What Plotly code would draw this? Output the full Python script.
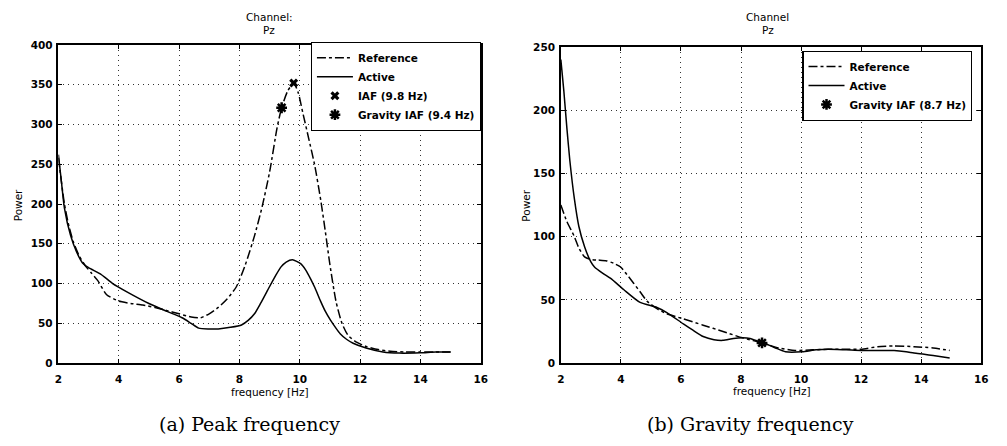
import plotly.graph_objects as go

# ---------------- data: (a) Peak frequency ----------------
ref_a_f = [2.0, 2.1, 2.2, 2.35, 2.5, 2.7, 2.9, 3.1, 3.3, 3.6, 4.0, 4.4, 4.8, 5.2, 5.6, 6.0,
           6.4, 6.7, 7.0, 7.3, 7.6, 7.9, 8.2, 8.5, 8.75, 9.0, 9.25, 9.4, 9.6, 9.8, 9.95,
           10.1, 10.3, 10.5, 10.7, 10.85, 11.0, 11.2, 11.4, 11.6, 11.9, 12.2, 12.6, 13.0,
           13.5, 14.0, 14.5, 15.0]
ref_a_p = [258, 228, 200, 172, 152, 134, 122, 113, 104, 86, 78, 75, 73, 70, 66, 62,
           58, 57, 62, 70, 81, 96, 124, 160, 196, 240, 296, 321, 342, 352, 340,
           315, 282, 248, 204, 165, 124, 78, 50, 35, 26, 21, 17, 15,
           14, 14, 14, 14]

act_a_f = [2.0, 2.1, 2.2, 2.4, 2.6, 2.8, 3.0, 3.4, 3.8, 4.3, 5.0, 5.6, 6.1, 6.4, 6.65,
           7.0, 7.3, 7.7, 8.07, 8.3, 8.5, 8.7, 8.94, 9.2, 9.38, 9.55, 9.76, 10.03, 10.2,
           10.36, 10.5, 10.69, 10.85, 11.02, 11.2, 11.34, 11.55, 11.77, 12.2, 12.76,
           13.3, 14.0, 14.5, 15.0]
act_a_p = [262, 228, 195, 161, 140, 126, 120, 112, 100, 89, 75, 65, 57, 50, 44,
           43, 43, 45, 48, 54, 62, 75, 92, 110, 121, 127, 130, 125, 117,
           106, 95, 78, 65, 54, 44, 37, 30, 25, 19, 14,
           12.6, 13, 14, 14]

iaf_a = (9.8, 352)
giaf_a = (9.4, 321)

# ---------------- data: (b) Gravity frequency ----------------
ref_b_f = [2.0, 2.2, 2.45, 2.6, 2.79, 3.0, 3.23, 3.5, 3.75, 3.99, 4.2, 4.43, 4.65, 4.87,
           5.2, 5.53, 6.08, 6.74, 7.4, 8.05, 8.7, 9.25, 9.8, 10.4, 10.9, 11.5, 12.0,
           12.55, 13.1, 13.76, 14.4, 14.95]
ref_b_p = [125, 112, 100, 91, 84, 82, 81.5, 81, 79, 76, 70, 63, 56, 49,
           43, 39, 35, 30, 25, 20, 16, 12, 10, 10.5, 11, 11, 11,
           13, 13.6, 13, 12, 10]

act_b_f = [2.0, 2.1, 2.2, 2.3, 2.45, 2.6, 2.79, 3.0, 3.12, 3.4, 3.66, 4.1, 4.64, 5.2,
           5.53, 6.08, 6.4, 6.74, 7.1, 7.4, 7.75, 8.05, 8.3, 8.6, 8.9, 9.15, 9.48, 10.03,
           10.5, 10.9, 11.5, 12.0, 12.6, 13.1, 13.5, 13.76, 14.1, 14.4, 14.95]
act_b_p = [240, 215, 186, 160, 130, 108, 92, 80, 76, 71, 67, 58, 48, 44,
           40, 31, 26, 21, 18.5, 18, 19.5, 20, 19.5, 17, 14.5, 12, 9, 9,
           10.5, 11, 10.5, 10, 10, 10, 9, 8, 7, 6, 4]

giaf_b = (8.7, 16)

W, H = 1007, 446
FONT = "DejaVu Sans, Liberation Sans, Arial, sans-serif"
SERIF = "DejaVu Serif, Liberation Serif, serif"

def px(x):
    return x / W

def py(y):
    return 1 - y / H

fig = go.Figure()

line_common = dict(color="black", width=1.5)
gmark = dict(symbol="asterisk-open", size=9, color="black", line=dict(color="black", width=2.5))

# Left panel
fig.add_trace(go.Scatter(x=ref_a_f, y=ref_a_p, mode="lines", name="Reference",
                         line=dict(dash="dashdot", shape="spline", smoothing=0.6, **line_common),
                         xaxis="x", yaxis="y", legend="legend"))
fig.add_trace(go.Scatter(x=act_a_f, y=act_a_p, mode="lines", name="Active",
                         line=dict(dash="solid", shape="spline", smoothing=0.6, **line_common),
                         xaxis="x", yaxis="y", legend="legend"))
fig.add_trace(go.Scatter(x=[iaf_a[0]], y=[iaf_a[1]], mode="markers", name="IAF (9.8 Hz)",
                         marker=dict(symbol="x", size=8, color="black"),
                         xaxis="x", yaxis="y", legend="legend"))
fig.add_trace(go.Scatter(x=[giaf_a[0]], y=[giaf_a[1]], mode="markers", name="Gravity IAF (9.4 Hz)",
                         marker=gmark, xaxis="x", yaxis="y", legend="legend"))

# Right panel
fig.add_trace(go.Scatter(x=ref_b_f, y=ref_b_p, mode="lines", name="Reference",
                         line=dict(dash="dashdot", shape="spline", smoothing=0.6, **line_common),
                         xaxis="x2", yaxis="y2", legend="legend2"))
fig.add_trace(go.Scatter(x=act_b_f, y=act_b_p, mode="lines", name="Active",
                         line=dict(dash="solid", shape="spline", smoothing=0.6, **line_common),
                         xaxis="x2", yaxis="y2", legend="legend2"))
fig.add_trace(go.Scatter(x=[giaf_b[0]], y=[giaf_b[1]], mode="markers", name="Gravity IAF (8.7 Hz)",
                         marker=gmark, xaxis="x2", yaxis="y2", legend="legend2"))

axis_common = dict(
    showline=True, linecolor="black", linewidth=1.5, mirror="allticks",
    ticks="inside", ticklen=4, tickwidth=1, tickcolor="black",
    showgrid=True, gridcolor="#333", gridwidth=1, griddash="1px,4px",
    zeroline=False, tickfont=dict(family=FONT, size=10.5, color="black", weight="bold"),
)

leg_common = dict(xanchor="right", yanchor="top",
                  bgcolor="white", bordercolor="black", borderwidth=1.2,
                  font=dict(family=FONT, size=10.5, color="black", weight="bold"),
                  itemwidth=36, tracegroupgap=0)

fig.update_layout(
    width=W, height=H,
    margin=dict(l=0, r=0, t=0, b=0),
    paper_bgcolor="white", plot_bgcolor="white",
    showlegend=True,
    xaxis=dict(domain=[px(55), px(482)], range=[2, 16], dtick=2, anchor="y",
               ticklabelstandoff=6, **axis_common),
    yaxis=dict(domain=[py(367), py(40)], range=[0, 400], dtick=50, anchor="x",
               ticklabelstandoff=2, **axis_common),
    xaxis2=dict(domain=[px(563), px(988)], range=[2, 16], dtick=2, anchor="y2",
                ticklabelstandoff=6, **axis_common),
    yaxis2=dict(domain=[py(367), py(42)], range=[0, 250], dtick=50, anchor="x2",
                ticklabelstandoff=2, **axis_common),
    legend=dict(x=px(482), y=py(37), **leg_common),
    legend2=dict(x=px(979), y=py(46), **leg_common),
)

ann = []
txt_font = dict(family=FONT, size=10.5, color="black")

def label(text, x, y, font=txt_font, angle=0):
    ann.append(dict(text=text, x=px(x), y=py(y), xref="paper", yref="paper",
                    xanchor="center", yanchor="middle", showarrow=False,
                    font=font, textangle=angle))

# titles
label("Channel:", 268, 11)
label("Pz", 268, 25)
label("Channel", 772, 11)
label("Pz", 772, 25)
# x labels
label("frequency [Hz]", 269, 397)
label("frequency [Hz]", 776, 396)
# y labels
label("Power", 15, 205, angle=-90)
label("Power", 528, 205, angle=-90)
# captions
cap_font = dict(family=SERIF, size=19, color="black")
label("(a) Peak frequency", 248, 430, font=cap_font)
label("(b) Gravity frequency", 755, 430, font=cap_font)
fig.update_layout(annotations=ann)

fig.write_html("out.html")
